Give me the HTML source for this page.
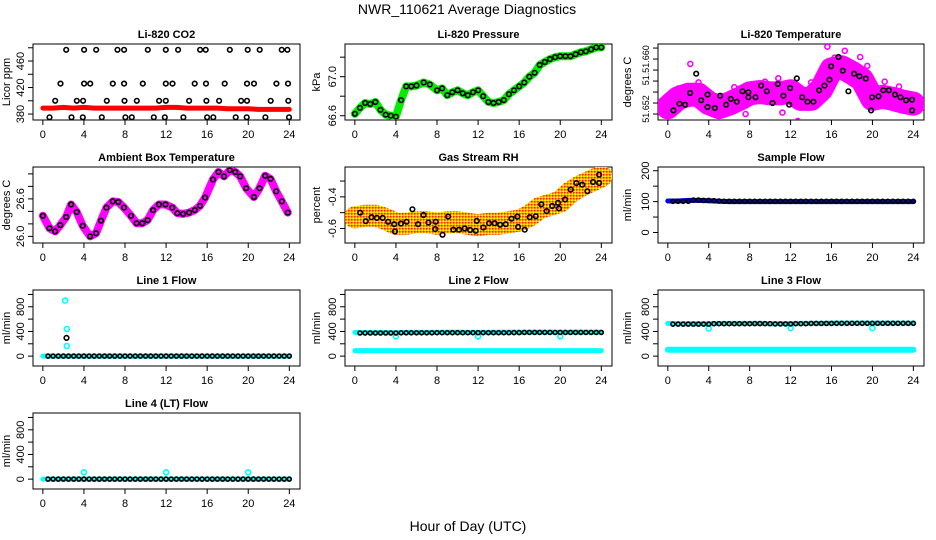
<!DOCTYPE html>
<html><head><meta charset="utf-8">
<style>
html,body{margin:0;padding:0;background:#fff;}
svg{display:block;font-family:"Liberation Sans",sans-serif;}
</style></head>
<body>
<svg id="chart" width="936" height="540" viewBox="0 0 936 540" xmlns="http://www.w3.org/2000/svg">
<rect width="936" height="540" fill="#fff"/>
<defs>
<pattern id="rhpat" width="3" height="3" patternUnits="userSpaceOnUse">
<rect width="3" height="3" fill="#ffb000"/><rect width="1.5" height="1.5" fill="#ff2000"/><rect x="1.5" y="1.5" width="1.5" height="1.5" fill="#ffff00"/>
</pattern>
</defs>
<text x="467" y="14" text-anchor="middle" font-size="14">NWR_110621  Average Diagnostics</text>
<text x="468" y="531" text-anchor="middle" font-size="14">Hour of Day (UTC)</text>
</svg>
<script>
// ---------- data ----------
const xTicks = [0,4,8,12,16,20,24];
const hourly = [0,1,2,3,4,5,6,7,8,9,10,11,12,13,14,15,16,17,18,19,20,21,22,23,24];
const halfHours = [0.5,1,1.5,2,2.5,3,3.5,4,4.5,5,5.5,6,6.5,7,7.5,8,8.5,9,9.5,10,10.5,11,11.5,12,12.5,13,13.5,14,14.5,15,15.5,16,16.5,17,17.5,18,18.5,19,19.5,20,20.5,21,21.5,22,22.5,23,23.5,24];

// CO2
const co2Red = [389,389,390,389,390,389,389,389,389,389,389,389,390,390,389,389,389,389,388,388,388,387,387,387,387];
const co2BlackX = [2.27,4.02,5.19,7.27,7.91,10.22,11.97,13.17,15.31,15.86,18.2,19.95,21.12,23.26,23.81,
 1.72,4.02,4.61,6.81,7.91,9.73,11.97,12.62,14.79,15.89,17.71,19.88,20.56,22.74,23.87,
 1.2,3.31,3.92,6.23,7.95,9.15,11.32,11.97,14.24,15.93,17.16,19.3,19.88,22.19,23.9,
 0.65,2.79,3.89,5.74,8.04,8.66,10.8,11.87,13.69,15.99,16.6,18.78,19.85,21.67,23.97];
const co2BlackY = [477,477,477,477,477,477,477,477,477,477,477,477,477,477,477,
 426,426,426,426,426,426,426,426,426,426,426,426,426,426,426,
 400,400,400,400,400,400,400,400,400,400,400,400,400,400,400,
 375,375,375,375,375,375,375,375,375,375,375,375,375,375,375];

// Pressure
const presX = [0,0.5,1,1.5,2,2.5,3,3.5,4,4.5,5,5.5,6,6.7,7.3,8,8.5,9,9.5,10,10.5,11,11.5,12,12.5,13,13.5,14,14.5,15,15.5,16,16.5,17,17.5,18,18.5,19,19.5,20,20.5,21,21.5,22,22.5,23,23.5,24];
const presY = [66.62,66.68,66.73,66.72,66.74,66.66,66.61,66.60,66.59,66.76,66.90,66.90,66.91,66.94,66.92,66.86,66.88,66.81,66.84,66.86,66.83,66.81,66.84,66.86,66.80,66.74,66.73,66.74,66.76,66.82,66.86,66.90,66.94,67.00,67.04,67.12,67.15,67.18,67.20,67.21,67.21,67.21,67.23,67.25,67.26,67.28,67.30,67.30];

// Li-820 Temperature
const tempBandY = [51.6530,51.6543,51.6548,51.6548,51.6536,51.6530,51.6535,51.6542,51.6550,51.6552,51.6550,51.6550,51.6553,51.6542,51.6542,51.6556,51.6585,51.6588,51.6580,51.6570,51.6542,51.6545,51.6542,51.6538,51.6535];
const tempX = [0.55,1.14,1.69,2.18,2.77,3.26,3.88,3.88,4.59,5.11,5.70,6.16,6.74,7.30,7.88,7.88,8.57,9.12,9.67,10.23,10.75,11.30,11.86,11.95,12.61,13.13,13.65,14.23,14.79,15.31,15.80,15.96,16.68,17.10,17.65,18.21,18.73,19.35,19.87,19.97,20.59,21.07,21.6,22.21,22.74,23.29,23.88,23.88];
const tempY = [51.65253,51.6535,51.65336,51.65506,51.65787,51.65399,51.65482,51.65302,51.65287,51.65467,51.65336,51.65418,51.6538,51.6553,51.65516,51.65443,51.65443,51.65613,51.6553,51.6536,51.65637,51.65467,51.65336,51.65579,51.65719,51.65443,51.6538,51.6538,51.65545,51.65613,51.657,51.65894,51.6603,51.65831,51.6553,51.65787,51.65749,51.65715,51.65253,51.65443,51.65457,51.65545,51.65545,51.65482,51.65443,51.65399,51.65409,51.65253];
const tempOutX = [2.2,15.6,12.7,7.6,17.3,18.8,21.2,22.6,11.2,1.0,3.0,9.5,10.8,14.0,16.3,19.5,0.2,23.5,6.5];
const tempOutY = [51.6593,51.6618,51.6510,51.6520,51.6612,51.6603,51.6567,51.6560,51.6522,51.6557,51.6566,51.6567,51.6572,51.6566,51.6602,51.6590,51.6528,51.6527,51.6559];

// Ambient box temperature
const ambX = [0,0.65,1.2,1.7,2.27,2.75,3.3,3.88,4.6,5.18,5.66,6.2,6.8,7.35,7.9,8.58,9.13,9.68,10.2,10.74,11.3,11.94,12.6,13.1,13.66,14.24,14.8,15.3,15.8,16.57,17.1,17.64,18.2,18.74,19.22,19.8,20.55,21.1,21.65,22.17,22.72,23.27,23.85];
const ambY = [26.33,26.13,26.08,26.18,26.31,26.51,26.39,26.17,26.0,26.05,26.25,26.46,26.56,26.55,26.46,26.33,26.21,26.21,26.26,26.42,26.51,26.51,26.46,26.37,26.36,26.38,26.42,26.49,26.62,26.91,27.03,26.96,27.06,27.03,26.96,26.77,26.63,26.77,26.97,26.92,26.72,26.56,26.38];

// Gas stream RH
const rhBandY = [-0.53,-0.52,-0.52,-0.54,-0.57,-0.57,-0.56,-0.56,-0.57,-0.56,-0.56,-0.57,-0.58,-0.57,-0.57,-0.56,-0.55,-0.52,-0.47,-0.45,-0.43,-0.37,-0.33,-0.30,-0.27];
const rhX = [0.52,1.07,1.62,2.14,2.7,3.24,3.83,3.9,4.48,5.03,5.6,6.16,6.68,7.17,7.82,7.88,8.53,9.08,9.6,10.15,10.7,11.22,11.77,11.87,12.52,13.07,13.62,14.14,14.69,15.24,15.83,15.9,16.54,17.03,17.61,18.16,18.68,19.23,19.79,19.88,20.47,21.02,21.57,22.15,22.64,23.19,23.78,23.78];
const rhY = [-0.50,-0.554,-0.529,-0.533,-0.533,-0.558,-0.573,-0.619,-0.569,-0.558,-0.479,-0.573,-0.515,-0.563,-0.604,-0.558,-0.64,-0.525,-0.608,-0.608,-0.6,-0.61,-0.615,-0.552,-0.594,-0.567,-0.567,-0.577,-0.573,-0.538,-0.525,-0.59,-0.608,-0.529,-0.523,-0.448,-0.49,-0.458,-0.438,-0.473,-0.417,-0.354,-0.313,-0.323,-0.365,-0.306,-0.313,-0.26];

// Sample flow
const sampleBand = [102,102,104,104,103,101,100,100,100,100,100,100,100,100,100,100,100,100,100,100,100,100,100,100,100];
const sampleBlack = [101,101,101,101,105,105,104,104,103,102,101,101,101,101,101,101,101,101,101,101,101,101,101,101,101,101,101,101,101,101,101,101,101,101,101,101,101,101,101,101,101,101,101,101,101,101,101,101];

// Line flows
const line1Cyan = [0,0,0,0,0,0,0,0,0,0,0,0,0,0,0,0,0,0,0,0,0,0,0,0,0];
const line1Black = [0,0,0,0,0,0,0,0,0,0,0,0,0,0,0,0,0,0,0,0,0,0,0,0,0,0,0,0,0,0,0,0,0,0,0,0,0,0,0,0,0,0,0,0,0,0,0,0];
const line1OutX = [2.17,2.33,2.33];
const line1OutY = [900,440,165];
const line1BlackOutX = [2.3];
const line1BlackOutY = [295];

const line2CyanLow = [90,90,90,90,90,90,90,90,90,90,90,90,90,90,90,90,90,90,90,90,90,90,90,90,90];
const line2CyanHigh = [385,382,382,382,380,385,385,385,385,388,388,385,385,385,388,388,388,388,388,388,385,388,388,388,388];
const line2Black = [375,375,375,375,375,375,375,375,378,378,378,378,378,378,378,380,380,380,380,380,380,380,380,380,380,380,380,380,380,380,382,382,384,384,384,384,384,384,384,384,384,384,384,384,384,384,384,384];
const line2OutX = [4,12,20];
const line2OutY = [320,320,320];

const line3CyanLow = [104,104,104,104,104,104,104,104,104,104,104,104,104,104,104,104,104,104,104,104,104,104,104,104,104];
const line3CyanHigh = [530,525,525,525,525,530,530,530,530,530,525,525,525,530,530,530,535,535,535,535,535,535,535,535,535];
const line3Black = [520,520,520,520,520,520,520,520,525,525,525,525,525,525,525,525,528,528,525,525,522,522,522,522,525,525,525,530,530,530,530,530,532,532,532,532,532,532,532,532,532,532,532,532,532,532,532,532];
const line3OutX = [4,12,20];
const line3OutY = [450,455,455];

const line4Cyan = [0,0,0,0,0,0,0,0,0,0,0,0,0,0,0,0,0,0,0,0,0,0,0,0,0];
const line4Black = [0,0,0,0,0,0,0,0,0,0,0,0,0,0,0,0,0,0,0,0,0,0,0,0,0,0,0,0,0,0,0,0,0,0,0,0,0,0,0,0,0,0,0,0,0,0,0,0];
const line4OutX = [4,12,20];
const line4OutY = [110,110,110];

// ---------- rendering ----------
const NS = 'http://www.w3.org/2000/svg';
const svg = document.getElementById('chart');
const colLeft = [33,345,658];
const colW = [267,267,266];
const rowTop = [44,167,290,413];
const boxH = 76;
const XD = [-0.96,25.04];

function mk(tag, attrs, parent){
  const e = document.createElementNS(NS, tag);
  for (const k in attrs) e.setAttribute(k, attrs[k]);
  (parent||svg).appendChild(e);
  return e;
}

function panel(name, col, row, title, ylab, yd, yTicks, yLabels, ylabX, lblSize, lblShift){
  const g = mk('g', {});
  
  
  const L = colLeft[col], T = rowTop[row], W = colW[col], B = T + boxH;
  const sx = v => L + (v - XD[0]) / (XD[1] - XD[0]) * W;
  const sy = v => B - (v - yd[0]) / (yd[1] - yd[0]) * boxH;
  const t = mk('text', {x: L + W/2, y: T - 6, 'text-anchor':'middle', 'font-size':11, 'font-weight':'bold'}, g);
  t.textContent = title;
  
  
  const yl = mk('text', {x: 0, y: 0, 'text-anchor':'middle', 'font-size':11, transform:`translate(${ylabX},${T+boxH/2}) rotate(-90)`}, g);
  yl.textContent = ylab;
  
  
  const xa = mk('g', {}, g);
  
  
  mk('line', {x1: sx(xTicks[0]), x2: sx(xTicks[xTicks.length-1]), y1: B, y2: B, stroke:'#000'}, xa);
  xTicks.forEach(v => {
    mk('line', {x1: sx(v), x2: sx(v), y1: B, y2: B + 5, stroke:'#000'}, xa);
    const tl = mk('text', {x: sx(v), y: B + 18, 'text-anchor':'middle', 'font-size':11}, xa);
    tl.textContent = v;
  });
  const ya = mk('g', {}, g);
  
  
  mk('line', {x1: L, x2: L, y1: sy(yTicks[0]), y2: sy(yTicks[yTicks.length-1]), stroke:'#000'}, ya);
  yTicks.forEach((v, i) => {
    mk('line', {x1: L - 5, x2: L, y1: sy(v), y2: sy(v), stroke:'#000'}, ya);
    if (yLabels[i]) {
      const sh = lblShift ? lblShift[i] : 0;
      const tl = mk('text', {x: 0, y: 0, 'text-anchor':'middle', 'font-size': lblSize||11, transform:`translate(${L-9},${sy(v)+sh}) rotate(-90)`}, ya);
      tl.textContent = yLabels[i];
    }
  });
  mk('rect', {x: L, y: T, width: W, height: boxH, fill:'none', stroke:'#000'}, g);
  const clipId = 'clip-' + name;
  const cp = mk('clipPath', {id: clipId}, g);
  mk('rect', {x: L, y: T, width: W, height: boxH}, cp);
  const pg = mk('g', {'clip-path': `url(#${clipId})`}, g);
  
  
  return {sx, sy, g: pg};
}

function band(p, xs, ys, color, width, name){
  const d = xs.map((x,i) => `${i?'L':'M'}${p.sx(x).toFixed(1)},${p.sy(ys[i]).toFixed(1)}`).join('');
  const e = mk('path', {d, fill:'none', stroke: color, 'stroke-width': width, 'stroke-linecap':'round', 'stroke-linejoin':'round'}, p.g);
  
  
}
function pts(p, xs, ys, color, name, r){
  const gg = mk('g', {}, p.g);
  
  
  xs.forEach((x,i) => {
    const c = mk('circle', {cx: p.sx(x).toFixed(1), cy: p.sy(ys[i]).toFixed(1), r: r||2.3, fill:'none', stroke: color, 'stroke-width': 1.6}, gg);
    
    
  });
}

// CO2
let p = panel('co2', 0, 0, 'Li-820 CO2', 'Licor ppm', [371, 485.7], [380,400,420,440,460,480], ['380','','420','','460',''], 10);
band(p, hourly, co2Red, '#ff0000', 5, 'co2-red-series');
pts(p, co2BlackX, co2BlackY, '#000', 'co2-black-series');

// Pressure
p = panel('pressure', 1, 0, 'Li-820 Pressure', 'kPa', [66.556, 67.335], [66.6,66.8,67.0,67.2], ['66.6','','67.0',''], 320);
band(p, presX, presY, '#00ee00', 8, 'pressure-green-series');
pts(p, presX, presY, '#000', 'pressure-black-series');

// Li-820 temperature
p = panel('li820-temp', 2, 0, 'Li-820 Temperature', 'degrees C', [51.65113, 51.66219], [51.652,51.6536,51.6552,51.6568,51.6584,51.66,51.6616], ['51.652','','','51.','','51.660',''], 631, 9, [-5,0,0,-2,0,0,0]);
band(p, hourly, tempBandY, '#ff00ff', 24, 'li820-temp-magenta-series');
pts(p, tempOutX, tempOutY, '#ff00ff', 'li820-temp-magenta-outliers', 2.5);
pts(p, tempX, tempY, '#000', 'li820-temp-black-series');

// Ambient
p = panel('ambient-temp', 0, 1, 'Ambient Box Temperature', 'degrees C', [25.894, 27.11], [26.0,26.2,26.4,26.6,26.8,27.0], ['26.0','','','26.6','',''], 10);
band(p, ambX, ambY, '#ff00ff', 8, 'ambient-magenta-series');
pts(p, ambX, ambY, '#000', 'ambient-black-series');

// Gas RH
p = panel('gas-rh', 1, 1, 'Gas Stream RH', 'percent', [-0.692, -0.211], [-0.6,-0.5,-0.4,-0.3], ['-0.6','','-0.4',''], 320);
band(p, hourly, rhBandY, 'url(#rhpat)', 22, 'gas-rh-orange-series');
pts(p, rhX, rhY, '#000', 'gas-rh-black-series');

// Sample flow
p = panel('sample-flow', 2, 1, 'Sample Flow', 'ml/min', [-34, 212], [0,50,100,150,200], ['0','','100','','200'], 631);
band(p, hourly, sampleBand, '#0000ff', 5, 'sample-flow-blue-series');
pts(p, halfHours, sampleBlack, '#000', 'sample-flow-black-series', 2);

const flowTicks = [0,200,400,600,800,1000];
const flowLabels = ['0','','400','','800',''];
const flowD = [-160, 1072];

p = panel('line1-flow', 0, 2, 'Line 1 Flow', 'ml/min', flowD, flowTicks, flowLabels, 10);
band(p, hourly, line1Cyan, '#00ffff', 5, 'line1-cyan-series');
pts(p, line1OutX, line1OutY, '#00ffff', 'line1-cyan-outliers', 2.5);
pts(p, halfHours, line1Black, '#000', 'line1-black-series', 2);
pts(p, line1BlackOutX, line1BlackOutY, '#000', 'line1-black-outliers', 2.3);

p = panel('line2-flow', 1, 2, 'Line 2 Flow', 'ml/min', flowD, flowTicks, flowLabels, 320);
band(p, hourly, line2CyanLow, '#00ffff', 5, 'line2-cyan-low-series');
band(p, hourly, line2CyanHigh, '#00ffff', 5, 'line2-cyan-high-series');
pts(p, line2OutX, line2OutY, '#00ffff', 'line2-cyan-outliers', 2.5);
pts(p, halfHours, line2Black, '#000', 'line2-black-series', 2);

p = panel('line3-flow', 2, 2, 'Line 3 Flow', 'ml/min', flowD, flowTicks, flowLabels, 631);
band(p, hourly, line3CyanLow, '#00ffff', 6, 'line3-cyan-low-series');
band(p, hourly, line3CyanHigh, '#00ffff', 5, 'line3-cyan-high-series');
pts(p, line3OutX, line3OutY, '#00ffff', 'line3-cyan-outliers', 2.5);
pts(p, halfHours, line3Black, '#000', 'line3-black-series', 2);

p = panel('line4-flow', 0, 3, 'Line 4 (LT) Flow', 'ml/min', flowD, flowTicks, flowLabels, 10);
band(p, hourly, line4Cyan, '#00ffff', 5, 'line4-cyan-series');
pts(p, line4OutX, line4OutY, '#00ffff', 'line4-cyan-outliers', 2.5);
pts(p, halfHours, line4Black, '#000', 'line4-black-series', 2);
</script>
</body></html>
